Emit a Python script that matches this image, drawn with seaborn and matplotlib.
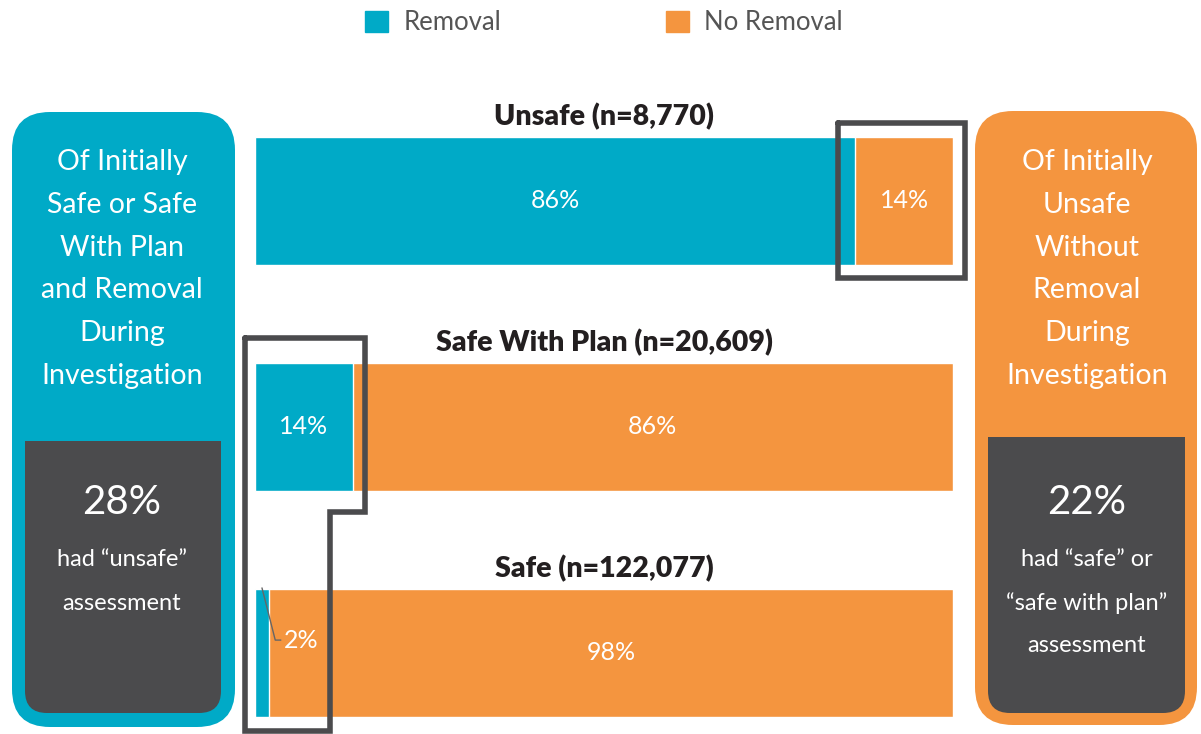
import pandas as pd
import numpy as np
import matplotlib
matplotlib.use('Agg')
import matplotlib.pyplot as plt
from matplotlib.patches import FancyBboxPatch, Rectangle, Patch
import seaborn as sns

# data
categories = ['Unsafe (n=8,770)', 'Safe With Plan (n=20,609)', 'Safe (n=122,077)']
removal = [86, 14, 2]
no_removal = [14, 86, 98]
series_names = ['Removal', 'No Removal']

left_panel_title = ['Of Initially', 'Safe or Safe', 'With Plan', 'and Removal', 'During', 'Investigation']
left_stat = '28%'
left_stat_text = ['had \u201cunsafe\u201d', 'assessment']
right_panel_title = ['Of Initially', 'Unsafe', 'Without', 'Removal', 'During', 'Investigation']
right_stat = '22%'
right_stat_text = ['had \u201csafe\u201d or', '\u201csafe with plan\u201d', 'assessment']

TEAL = '#00AAC7'
ORANGE = '#F4953F'
DARK = '#4B4B4D'

sns.set_theme(style='white')
plt.rcParams['font.family'] = ['Lato', 'DejaVu Sans']

df = pd.DataFrame({'category': categories, 'removal': removal, 'no_removal': no_removal})
df['total'] = df['removal'] + df['no_removal']

W, H = 1201, 734
fig = plt.figure(figsize=(W / 100, H / 100), dpi=100)

# background layer in pixel coordinates for the side panels
bg = fig.add_axes([0, 0, 1, 1])
bg.set_xlim(0, W)
bg.set_ylim(H, 0)
bg.axis('off')

# main bar axes: x 0..100 maps to px 255..953, bar centres at px 201 / 427 / 652.5
ax = fig.add_axes([255 / W, 0, 698 / W, 1])
step = 225.75
sns.barplot(data=df, x='total', y='category', color=ORANGE, saturation=1,
            width=128 / step, ax=ax)
sns.barplot(data=df, x='removal', y='category', color=TEAL, saturation=1,
            width=128 / step, ax=ax)
ax.set_xlim(0, 100)
ax.set_ylim(2 + (H - 652.5) / step, -201 / step)
ax.axis('off')

for i, row in df.iterrows():
    ax.text(50, i - 0.372, row['category'], ha='center', va='center',
            fontsize=20.5, fontweight='heavy', color='#231F20')
    if row['removal'] >= 5:
        ax.text(row['removal'] / 2, i, f"{row['removal']}%", ha='center', va='center',
                fontsize=18, color='white')
    else:
        # small segment: leader line
        x0 = row['removal'] / 2
        ax.plot([x0, x0 + 1.9, x0 + 2.7], [i - 0.286, i - 0.055, i - 0.055],
                color='#666666', lw=1, clip_on=False)
        ax.text(x0 + 3.1, i - 0.055, f"{row['removal']}%", ha='left', va='center',
                fontsize=18, color='white')
    ax.text(row['removal'] + row['no_removal'] / 2, i, f"{row['no_removal']}%",
            ha='center', va='center', fontsize=18, color='white')

# highlight outlines
ax.plot([83.5, 101.7, 101.7, 83.5, 83.5], [-0.345, -0.345, 0.341, 0.341, -0.345],
        color=DARK, lw=4, clip_on=False, solid_joinstyle='miter')
ax.plot([-1.43, 15.76, 15.76, 10.74, 10.74, -1.43, -1.43],
        [0.606, 0.606, 1.377, 1.377, 2.348, 2.348, 0.606],
        color=DARK, lw=4, clip_on=False, solid_joinstyle='miter')


def panel(x0, y0, x1, y1, ix0, iy0, ix1, iy1, color, title, stat, stat_text, cx):
    bg.add_patch(FancyBboxPatch((x0, y0), x1 - x0, y1 - y0,
                                boxstyle='round,pad=0,rounding_size=38',
                                fc=color, ec='none'))
    bg.add_patch(FancyBboxPatch((ix0, iy0), ix1 - ix0, iy1 - iy0,
                                boxstyle='round,pad=0,rounding_size=22',
                                fc=DARK, ec='none'))
    bg.add_patch(Rectangle((ix0, iy0), ix1 - ix0, 40, fc=DARK, ec='none'))
    for k, line in enumerate(title):
        bg.text(cx, 162 + k * 42.8, line, ha='center', va='center',
                fontsize=20.5, color='white')
    bg.text(cx, 502, stat, ha='center', va='center', fontsize=29, color='white')
    for k, line in enumerate(stat_text):
        bg.text(cx, 560 + k * 43, line, ha='center', va='center',
                fontsize=17, color='white')


panel(12, 112, 235, 727, 25, 441, 221, 713, TEAL, left_panel_title, left_stat, left_stat_text, 122)
panel(975, 111, 1197, 725, 988, 437, 1185, 713, ORANGE, right_panel_title, right_stat, right_stat_text, 1087)

handles = [Patch(color=TEAL), Patch(color=ORANGE)]
fig.legend(handles, series_names, loc='center', bbox_to_anchor=(604 / W, 1 - 23 / H),
           ncol=2, frameon=False, fontsize=18.5, handlelength=0.9, handleheight=0.9,
           handletextpad=0.6, columnspacing=6.4, labelcolor='#555555')

fig.savefig('out.png', dpi=100)
